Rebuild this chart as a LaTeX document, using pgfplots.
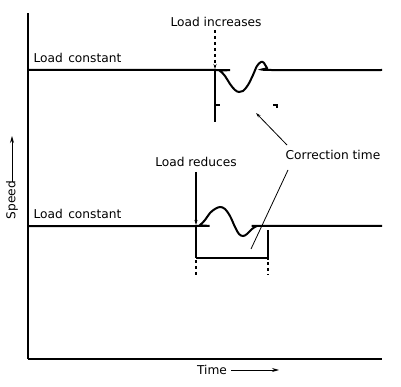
\documentclass[border=0pt]{standalone}
\usepackage{fontspec}
\setmainfont{DejaVu Sans}
\usepackage{pgfplots}
\pgfplotsset{compat=1.18}
\usetikzlibrary{arrows.meta}
\begin{document}
\begin{tikzpicture}[font=\fontsize{12.2bp}{14bp}\selectfont]
\begin{axis}[
  scale only axis, width=354bp, height=346bp,
  xmin=28, xmax=382, ymin=28, ymax=374,
  axis lines=left, axis line style={-, line width=1.8bp},
  ticks=none, clip=false,
]
% upper response (load increases)
\addplot[black, line width=2bp, smooth, tension=0.6] coordinates {
 (28,317) (215,317) (220,316) (225,311) (230,303) (235,297) (239,295) (243,296)
 (248,302) (253,312) (257,321) (261,325) (264,324) (267,319) (271,317) (382,317)};
% lower response (load reduces)
\addplot[black, line width=2bp, smooth, tension=0.6] coordinates {
 (28,161) (196,161) (200,162) (205,167) (210,174) (215,178) (220,180) (225,178)
 (230,171) (235,160) (239,153) (243,151) (247,153) (252,158) (257,161) (262,161) (382,161)};
% load increases marker
\addplot[black, line width=1.1bp, dashed, -{Stealth[length=5bp,width=3bp]}] coordinates {(215,357) (215,318)};
\addplot[black, line width=1.3bp] coordinates {(215,317) (215,265)};
\addplot[black, line width=1.1bp] coordinates {(216,282) (220,282)};
\addplot[black, line width=1.1bp] coordinates {(273,282) (277,282) (277,279)};
% load reduces marker and bracket
\addplot[black, line width=1.3bp, -{Stealth[length=5bp,width=3bp]}] coordinates {(196,215) (196,162)};
\addplot[black, line width=1.3bp] coordinates {(196,161) (196,129)};
\addplot[black, line width=1.3bp, dashed] coordinates {(196,127) (196,112)};
\addplot[black, line width=1.3bp] coordinates {(268,157) (268,127)};
\addplot[black, line width=1.3bp, dashed] coordinates {(268,125) (268,112)};
\addplot[black, line width=1.1bp] coordinates {(196,129) (268,129)};
% correction time pointers
\addplot[black, line width=0.8bp, -{Stealth[length=5bp,width=3bp]}] coordinates {(287,242) (256,274)};
\addplot[black, line width=0.8bp] coordinates {(288,217) (251,138)};
% time arrow
\addplot[black, line width=0.9bp, -{Stealth[length=7bp,width=4bp]}] coordinates {(231,17) (279,17)};
% speed arrow
\addplot[black, line width=0.9bp, -{Stealth[length=7bp,width=4bp]}] coordinates {(12,205) (12,251)};
% texts
\node[anchor=west] at (axis cs:30,329) {Load\hspace{0.45em}constant};
\node[anchor=west] at (axis cs:30,173) {Load\hspace{0.45em}constant};
\node at (axis cs:216,365) {Load increases};
\node at (axis cs:196,225) {Load reduces};
\node at (axis cs:333,232) {Correction time};
\node at (axis cs:212,17) {Time};
\node[rotate=90] at (axis cs:12,187) {Speed};
\coordinate (bl) at (axis cs:0,0);
\coordinate (tr) at (axis cs:401,387);
\end{axis}
\pgfresetboundingbox
\path[use as bounding box] (bl) rectangle (tr);
\end{tikzpicture}
\end{document}
